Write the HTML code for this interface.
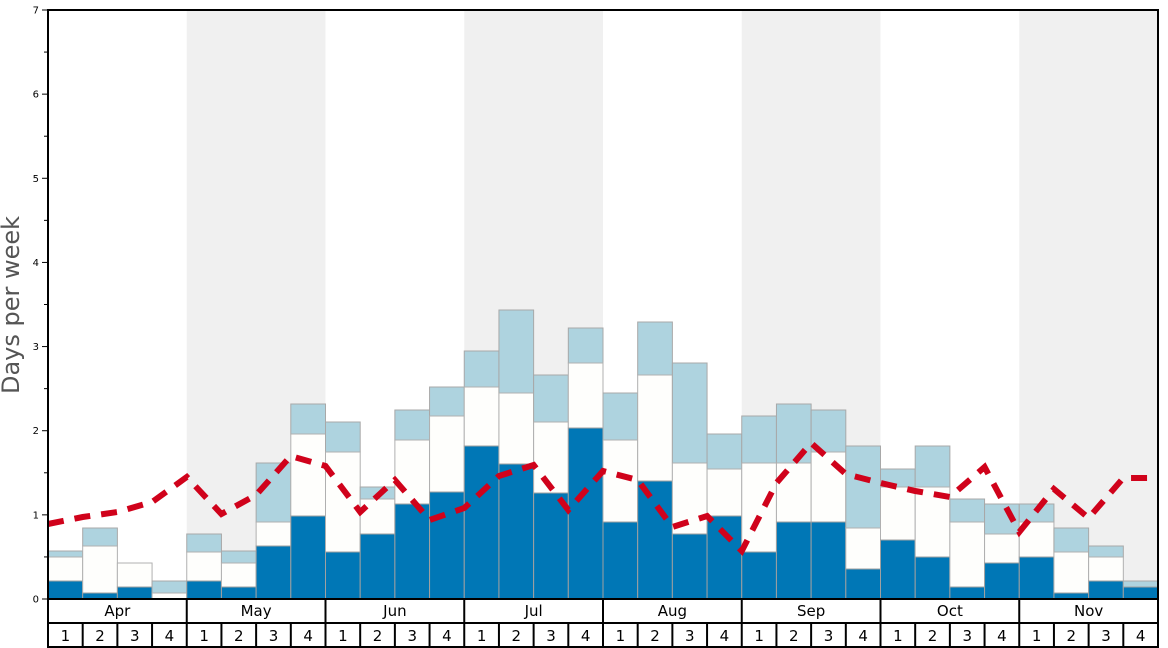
<!DOCTYPE html>
<html><head><meta charset="utf-8">
<style>
html,body{margin:0;padding:0;background:#fff;}
svg{display:block;font-family:"DejaVu Sans","Liberation Sans",sans-serif;}
</style></head>
<body>
<svg id="c" width="1168" height="648" xmlns="http://www.w3.org/2000/svg"></svg>
<script>
const s=document.getElementById('c');
let h='';
const L=48,R=1158,T=10,B=599,bw=(R-L)/32;
for(const m of [1,3,5,7]){h+=`<rect x="${L+m*4*bw}" y="${T}" width="${4*bw}" height="${B-T}" fill="#f0f0f0"/>`;}
const bars=[[581,557,551],[593,546,528],[587,563,563],[599,593,581],[581,552,534],[587,563,551],[546,522,463],[516,434,404],
[552,452,422],[534,499,487],[504,440,410],[492,416,387],[446,387,351],[464,393,310],[493,422,375],[428,363,328],
[522,440,393],[481,375,322],[534,463,363],[516,469,434],[552,463,416],[522,463,404],[522,452,410],[569,528,446],
[540,487,469],[557,487,446],[587,522,499],[563,534,504],[557,522,504],[593,552,528],[581,557,546],[587,587,581]];
bars.forEach((b,i)=>{const x=L+i*bw;
 if(b[2]<b[1])h+=`<rect x="${x}" y="${b[2]}" width="${bw}" height="${b[1]-b[2]}" fill="#aed3df" stroke="#a8a8a8" stroke-width="1"/>`;
 if(b[1]<b[0])h+=`<rect x="${x}" y="${b[1]}" width="${bw}" height="${b[0]-b[1]}" fill="#fefefc" stroke="#b0b0b0" stroke-width="1"/>`;
 if(b[0]<B)h+=`<rect x="${x}" y="${b[0]}" width="${bw}" height="${B-b[0]}" fill="#0077b6" stroke="#a0a0a0" stroke-width="1"/>`;
});
const ly=[524,517,512,502,477,514,495,456,466,512,480,520,508,476,465,510,471,480,527,516,551,483,443,474,483,491,497,467,532,489,518,478,478];
h+=`<polyline fill="none" stroke="#d0021b" stroke-width="6" stroke-dasharray="16,11" points="${ly.map((y,i)=>(L+i*bw).toFixed(1)+','+y).join(' ')}"/>`;
h+=`<rect x="${L}" y="${T}" width="${R-L}" height="${B-T}" fill="none" stroke="#000" stroke-width="2"/>`;
for(let v=0;v<=14;v++){const y=B-v*(B-T)/14;const len=v%2?4:6;
 h+=`<line x1="${L-len}" x2="${L}" y1="${y}" y2="${y}" stroke="#000" stroke-width="1"/>`;
 if(v%2==0)h+=`<text x="${L-9}" y="${y+3.5}" font-size="10" text-anchor="end" fill="#000">${v/2}</text>`;}
h+=`<line x1="${L}" x2="${R}" y1="623" y2="623" stroke="#000" stroke-width="2"/>`;
h+=`<line x1="${L}" x2="${R}" y1="647" y2="647" stroke="#000" stroke-width="2"/>`;
h+=`<line x1="${L}" x2="${L}" y1="${B}" y2="648" stroke="#000" stroke-width="2"/>`;
h+=`<line x1="${R}" x2="${R}" y1="${B}" y2="648" stroke="#000" stroke-width="2"/>`;
const mon=['Apr','May','Jun','Jul','Aug','Sep','Oct','Nov'];
mon.forEach((m,i)=>{const x=L+i*4*bw;
 if(i>0)h+=`<line x1="${x}" x2="${x}" y1="${B}" y2="648" stroke="#000" stroke-width="2"/>`;
 h+=`<text x="${x+2*bw}" y="616" font-size="15" text-anchor="middle">${m}</text>`;
 for(let w=0;w<4;w++){const wx=x+w*bw;
  if(w>0)h+=`<line x1="${wx}" x2="${wx}" y1="623" y2="648" stroke="#000" stroke-width="2"/>`;
  h+=`<text x="${wx+bw/2}" y="641" font-size="15" text-anchor="middle">${w+1}</text>`;}
});
h+=`<text transform="translate(19,305) rotate(-90)" font-size="24" fill="#555" text-anchor="middle">Days per week</text>`;
s.innerHTML=h;
</script>
</body></html>
